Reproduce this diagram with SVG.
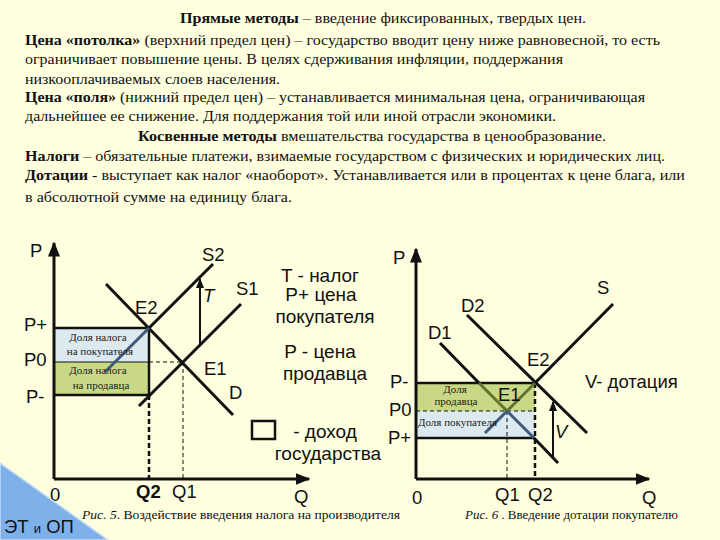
<svg xmlns="http://www.w3.org/2000/svg" width="720" height="540" viewBox="0 0 720 540">
<defs>
<style>
.bg{fill:#FFFFE0}
.t{font-family:"Liberation Serif","Times New Roman",serif;font-size:15px;fill:#111}
.b{font-weight:bold}
.lbl{font-family:"Liberation Sans",Arial,sans-serif;font-size:18.5px;fill:#111}
.lg{font-family:"Liberation Sans",Arial,sans-serif;font-size:19px;fill:#111;text-anchor:middle}
.sm{font-family:"Liberation Serif","Times New Roman",serif;font-size:11px;fill:#222}
.cap{font-family:"Liberation Serif","Times New Roman",serif;font-size:12.5px;fill:#111}
.ln{stroke:#111;stroke-width:3;fill:none}
.ax{stroke:#111;stroke-width:3;fill:none}
.dsh{stroke:#111;stroke-width:1;stroke-dasharray:4 3;fill:none}
.dshb{stroke:#111;stroke-width:2.5;stroke-dasharray:5 3;fill:none}
</style>
<marker id="ah" viewBox="0 0 10 10" refX="9" refY="5" markerWidth="5" markerHeight="5" orient="auto">
<path d="M0,1 L10,5 L0,9 Z" fill="#111"/>
</marker>
<marker id="ah2" viewBox="0 0 10 10" refX="9" refY="5" markerWidth="5" markerHeight="5" orient="auto">
<path d="M0,1 L10,5 L0,9 Z" fill="#111"/>
</marker>
</defs>
<rect class="bg" x="0" y="0" width="720" height="540"/>

<g id="text-block">
<text class="t" x="180" y="23" textLength="406" lengthAdjust="spacingAndGlyphs"><tspan class="b">Прямые методы</tspan> – введение фиксированных, твердых цен.</text>
<text class="t" x="25" y="45" textLength="635" lengthAdjust="spacingAndGlyphs"><tspan class="b">Цена «потолка»</tspan> (верхний предел цен) – государство вводит цену ниже равновесной, то есть</text>
<text class="t" x="25" y="64" textLength="538" lengthAdjust="spacingAndGlyphs">ограничивает повышение цены. В целях сдерживания инфляции, поддержания</text>
<text class="t" x="25" y="84" textLength="255" lengthAdjust="spacingAndGlyphs">низкооплачиваемых слоев населения.</text>
<text class="t" x="25" y="102" textLength="620" lengthAdjust="spacingAndGlyphs"><tspan class="b">Цена «поля»</tspan> (нижний предел цен) – устанавливается минимальная цена, ограничивающая</text>
<text class="t" x="25" y="121" textLength="531" lengthAdjust="spacingAndGlyphs">дальнейшее ее снижение. Для поддержания той или иной отрасли экономики.</text>
<text class="t" x="138" y="141" textLength="468" lengthAdjust="spacingAndGlyphs"><tspan class="b">Косвенные методы</tspan> вмешательства государства в  ценообразование.</text>
<text class="t" x="25" y="161" textLength="640" lengthAdjust="spacingAndGlyphs"><tspan class="b">Налоги</tspan> – обязательные платежи, взимаемые государством с физических и юридических лиц.</text>
<text class="t" x="25" y="180" textLength="660" lengthAdjust="spacingAndGlyphs"><tspan class="b">Дотации</tspan>  - выступает как налог «наоборот». Устанавливается или в процентах к цене блага, или</text>
<text class="t" x="25" y="202" textLength="267" lengthAdjust="spacingAndGlyphs">в абсолютной сумме на единицу блага.</text>
</g>

<g id="graph-tax">
<rect x="54" y="328" width="95" height="34" fill="#DCE9EF"/>
<rect x="54" y="362" width="95" height="33" fill="#C9D884"/>
<line class="ax" x1="54" y1="479" x2="54" y2="243" marker-end="url(#ah)"/>
<line class="ax" x1="54" y1="479" x2="309" y2="479" marker-end="url(#ah)"/>
<line x1="54" y1="328" x2="149" y2="328" stroke="#111" stroke-width="2.5"/>
<line x1="54" y1="362" x2="149" y2="362" stroke="#111" stroke-width="1"/>
<line x1="54" y1="395" x2="149" y2="395" stroke="#111" stroke-width="2.5"/>
<line x1="149" y1="328" x2="149" y2="395" stroke="#111" stroke-width="2.5"/>
<line class="dsh" x1="149" y1="362" x2="183" y2="362"/>
<line class="dsh" x1="183" y1="362" x2="183" y2="479"/>
<line class="dshb" x1="149" y1="395" x2="149" y2="479"/>
<line class="ln" x1="106" y1="284" x2="233" y2="415"/>
<line class="ln" x1="139" y1="406" x2="241" y2="304"/>
<line class="ln" x1="149" y1="328" x2="213" y2="264"/>
<line x1="105" y1="372" x2="149" y2="328" stroke="#3E5A78" stroke-width="3"/>
<line x1="200" y1="345" x2="200" y2="279" stroke="#111" stroke-width="2" marker-end="url(#ah2)"/>
<text class="lbl" x="30" y="257">P</text>
<text class="lbl" x="202" y="261">S2</text>
<text class="lbl" x="236" y="295">S1</text>
<text class="lbl" x="203" y="302" font-style="italic" font-size="16">T</text>
<text class="lbl" x="135" y="314">E2</text>
<text class="lbl" x="24" y="331">P+</text>
<text class="lbl" x="24" y="366">P0</text>
<text class="lbl" x="26" y="403">P-</text>
<text class="lbl" x="204" y="375">E1</text>
<text class="lbl" x="229" y="399">D</text>
<text class="sm" x="98" y="341" text-anchor="middle">Доля налога</text>
<text class="sm" x="100" y="355" text-anchor="middle">на покупателя</text>
<text class="sm" x="98" y="374" text-anchor="middle">Доля налога</text>
<text class="sm" x="101" y="389" text-anchor="middle">на продавца</text>
<text class="lbl" x="50" y="501">0</text>
<text class="lbl b" x="136" y="498">Q2</text>
<text class="lbl" x="172" y="498">Q1</text>
<text class="lbl" x="294" y="503">Q</text>
</g>

<g id="legend-tax">
<text class="lg" x="320" y="282">T - налог</text>
<text class="lg" x="321" y="301">P+  цена</text>
<text class="lg" x="325" y="323">покупателя</text>
<text class="lg" x="320" y="358">P -  цена</text>
<text class="lg" x="325" y="380">продавца</text>
<rect x="252" y="421" width="23" height="18" fill="#FFFFE0" stroke="#111" stroke-width="2.5"/>
<text class="lg" x="325" y="438">-  доход</text>
<text class="lg" x="328" y="460">государства</text>
<text class="cap" x="82" y="519" textLength="318" lengthAdjust="spacingAndGlyphs"><tspan font-style="italic">Рис. 5</tspan>. Воздействие введения налога на производителя</text>
</g>

<g id="graph-subsidy">
<rect x="416" y="383" width="119" height="28" fill="#C9D884"/>
<rect x="416" y="411" width="119" height="27" fill="#DCE9EF"/>
<line class="ax" x1="416" y1="479" x2="416" y2="249" marker-end="url(#ah)"/>
<line class="ax" x1="416" y1="479" x2="649" y2="479" marker-end="url(#ah)"/>
<line x1="416" y1="383" x2="535" y2="383" stroke="#111" stroke-width="2.5"/>
<line x1="416" y1="438" x2="535" y2="438" stroke="#111" stroke-width="2.5"/>
<line class="dsh" x1="416" y1="411" x2="535" y2="411"/>
<line class="dsh" x1="507" y1="411" x2="507" y2="479"/>
<line class="dshb" x1="535" y1="383" x2="535" y2="479"/>
<line class="ln" x1="440" y1="343" x2="479" y2="383"/>
<line x1="479" y1="383" x2="507" y2="411" stroke="#5E7430" stroke-width="3"/>
<line x1="507" y1="411" x2="534" y2="438" stroke="#3E5A78" stroke-width="3"/>
<line class="ln" x1="534" y1="438" x2="558" y2="463"/>
<line class="ln" x1="467" y1="315" x2="587" y2="433"/>
<line x1="485" y1="433" x2="507" y2="411" stroke="#3E5A78" stroke-width="3"/>
<line x1="507" y1="411" x2="535" y2="383" stroke="#5E7430" stroke-width="3"/>
<line class="ln" x1="535" y1="383" x2="613" y2="304"/>
<line x1="553" y1="458" x2="553" y2="402" stroke="#111" stroke-width="2" marker-end="url(#ah2)"/>
<text class="lbl" x="393" y="264">P</text>
<text class="lbl" x="597" y="294">S</text>
<text class="lbl" x="461" y="312">D2</text>
<text class="lbl" x="428" y="339">D1</text>
<text class="lbl" x="527" y="366">E2</text>
<text class="lbl" x="585" y="388">V- дотация</text>
<text class="lbl" x="390" y="388">P-</text>
<text class="lbl" x="389" y="416">P0</text>
<text class="lbl" x="388" y="444">P+</text>
<text class="lbl" x="498" y="401">E1</text>
<text class="lbl" x="555" y="438" font-style="italic">V</text>
<text class="sm" x="455" y="393" text-anchor="middle">Доля</text>
<text class="sm" x="456" y="405" text-anchor="middle">продавца</text>
<text class="sm" x="418" y="426">Доля покупателя</text>
<text class="lbl" x="412" y="504">0</text>
<text class="lbl" x="495" y="501">Q1</text>
<text class="lbl" x="528" y="501">Q2</text>
<text class="lbl" x="642" y="504">Q</text>
<text class="cap" x="465" y="519" textLength="213" lengthAdjust="spacingAndGlyphs"><tspan font-style="italic">Рис. 6</tspan> . Введение дотации покупателю</text>
</g>

<g id="corner">
<polygon points="0,463 108,540 0,540" fill="#7EB0EA" stroke="#C8DDF5" stroke-width="1.5"/>
<text class="lbl" x="4" y="533" fill="#1A1A3A" font-size="18">ЭТ <tspan font-size="13">и</tspan> ОП</text>
</g>
</svg>
